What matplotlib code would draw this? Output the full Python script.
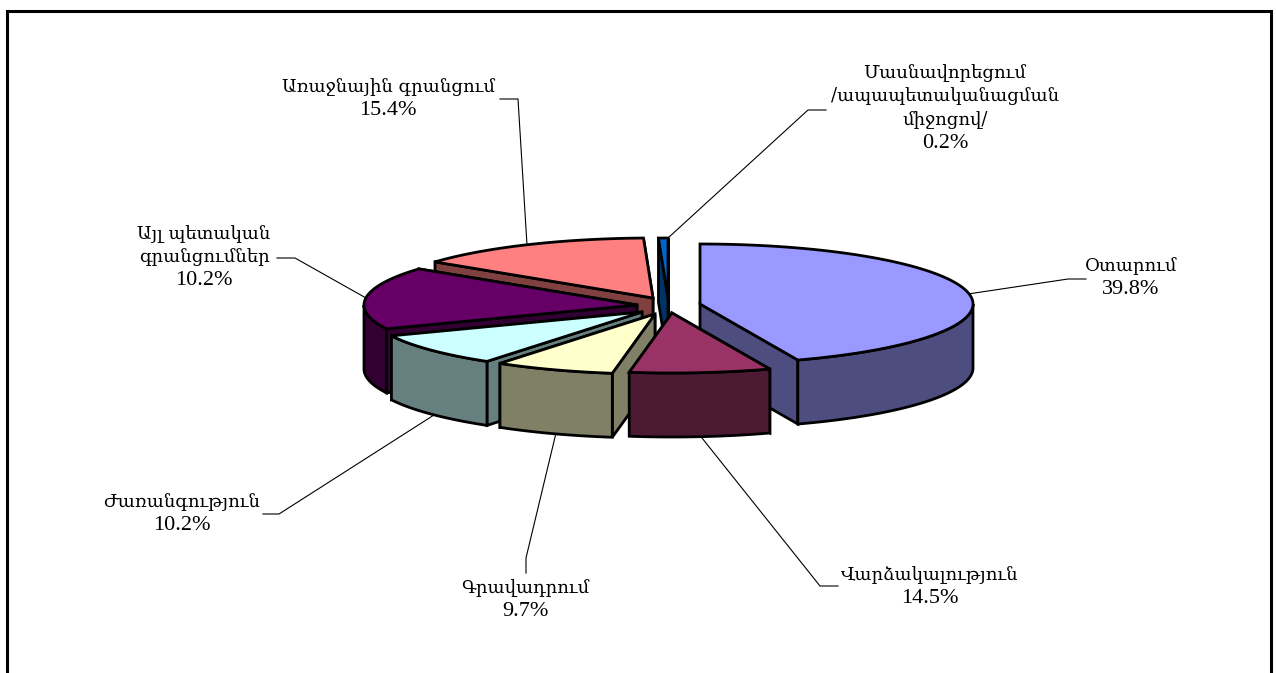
import numpy as np
import matplotlib
matplotlib.use('Agg')
import matplotlib.pyplot as plt
from matplotlib.colors import to_rgb
from matplotlib.patches import Polygon

names = ['Օտարում', 'Վարձակալություն', 'Գրավադրում', 'Ժառանգություն',
         'Այլ պետական\nգրանցումներ', 'Առաջնային գրանցում',
         'Մասնավորեցում\n/ապապետականացման\nմիջոցով/']
shares = [39.8, 14.5, 9.7, 10.2, 10.2, 15.4, 0.2]
colors = ['#9999FF', '#993366', '#FFFFCC', '#CCFFFF', '#660066', '#FF8080', '#0066CC']

# everything below is in image pixels
W, H = 1276, 673
cx, cy = 660, 305
rx, ry = 273, 60
depth = 64
explode = [(40, -1), (12, 8), (-5, 9), (-18, 7), (-23, 0), (-7, -7), (8, -7)]
draw_order = [0, 6, 5, 4, 3, 2, 1]

# excel's 3d pie squeezes the angles, true angle -> drawn angle
warp_in = [0, 143.28, 195.48, 230.4, 267.12, 303.84, 359.28, 360]
warp_out = [0, 159, 189, 214.6, 246.6, 307, 358, 360]

# label centre x, y of first line, leader line points
label_pos = [(1131, 266), (930, 575), (525, 588), (182, 502), (204, 234), (388, 87), (945, 73)]
line_step = 23.4
leaders = [
    [(968, 294), (1068, 279), (1086, 279)],
    [(702, 438), (820, 586), (838, 586)],
    [(556, 433), (526, 558), (526, 573)],
    [(434, 415), (279, 514), (263, 514)],
    [(366, 298), (295, 258), (277, 258)],
    [(527, 245), (518, 99), (500, 99)],
    [(668, 238), (808, 110), (826, 110)],
]


def arc(ox, oy, a0, a1):
    t = np.radians(np.linspace(a0, a1, max(int(abs(a1 - a0)) * 2, 2)))
    return np.column_stack([ox + rx * np.sin(t), oy - ry * np.cos(t)])


def shade(c):
    return tuple(v * 0.5 for v in to_rgb(c))


def prism(ax, ox, oy, a0, a1, color):
    side = shade(color)
    kw = dict(edgecolor='black', linewidth=2, joinstyle='miter')
    p0 = arc(ox, oy, a0, a0)[0]
    p1 = arc(ox, oy, a1, a1)[0]
    down = np.array([0, depth])
    apex = np.array([ox, oy])
    # the wall with the lower corner faces the viewer, so it goes last
    for p in sorted([p0, p1], key=lambda q: q[1]):
        ax.add_patch(Polygon([apex, p, p + down, apex + down], facecolor=side, **kw))
    lo, hi = max(a0, 90), min(a1, 270)
    if hi > lo:
        a = arc(ox, oy, lo, hi)
        ax.add_patch(Polygon(np.vstack([a, (a + down)[::-1]]), facecolor=side, **kw))
    top = np.vstack([apex, arc(ox, oy, a0, a1)])
    ax.add_patch(Polygon(top, facecolor=color, **kw))


fig = plt.figure(figsize=(W / 100, H / 100), dpi=100)
ax = fig.add_axes([0, 0, 1, 1])
ax.set_xlim(0, W)
ax.set_ylim(H, 0)
ax.axis('off')

# frame, bottom edge falls outside the picture
ax.plot([7, 7, 1270.5, 1270.5], [H + 5, 11, 11, H + 5], color='black', lw=2.2, solid_joinstyle='miter')

edges = np.cumsum([0] + shares) * 3.6
angles = np.interp(edges, warp_in, warp_out)

for i in draw_order:
    dx, dy = explode[i]
    prism(ax, cx + dx, cy + dy, angles[i], angles[i + 1], colors[i])

for i in range(len(names)):
    xs, ys = zip(*leaders[i])
    ax.plot(xs, ys, color='black', lw=0.8, zorder=0.5)
    x, y = label_pos[i]
    rows = names[i].split('\n')
    for j, row in enumerate(rows):
        ax.text(x, y + j * line_step, row, ha='center', va='center', fontsize=13,
                family=['DejaVu Serif'], color='black')
    ax.text(x, y + len(rows) * line_step, f'{shares[i]}%', ha='center', va='center', fontsize=16,
            family=['Liberation Serif'], color='black')

fig.savefig('out.png', dpi=100)
